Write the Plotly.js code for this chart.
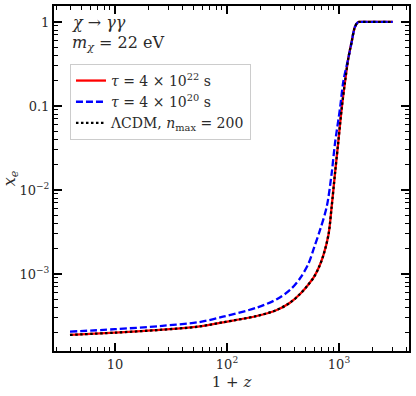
<!DOCTYPE html>
<html>
<head>
<meta charset="utf-8">
<script src="https://cdn.plot.ly/plotly-3.0.1.min.js"></script>
<style>
  html, body { margin: 0; padding: 0; background: #fff; }
  #chart { width: 416px; height: 396px; }
</style>
</head>
<body>
<div id="chart"></div>
<script>
// 1+z and x_e
const zRed = [3.96, 10, 25.2, 55.1, 92, 184, 278, 365, 449, 529, 598, 663, 728, 806, 860, 921, 986, 1057, 1132, 1211, 1298, 1390, 1487, 1560, 3020];
const xeRed = [1.88e-4, 2.00e-4, 2.16e-4, 2.36e-4, 2.66e-4, 3.16e-4, 3.73e-4, 4.55e-4, 5.78e-4, 7.40e-4, 9.21e-4, 1.21e-3, 1.70e-3, 2.95e-3, 6.33e-3, 0.0158, 0.0376, 0.0939, 0.195, 0.370, 0.582, 0.879, 1.0, 1.0, 1.0];

const zBlue = [3.96, 10, 25.2, 55.1, 92, 184, 278, 365, 449, 535, 598, 677, 777, 860, 921, 1021, 1092, 1211, 1298, 1390, 1487, 1560, 3020];
const xeBlue = [2.06e-4, 2.20e-4, 2.40e-4, 2.66e-4, 3.10e-4, 3.97e-4, 5.00e-4, 6.45e-4, 8.89e-4, 1.34e-3, 2.04e-3, 3.34e-3, 6.33e-3, 0.0158, 0.0360, 0.0939, 0.195, 0.370, 0.582, 0.879, 1.0, 1.0, 1.0];

const zLcdm = zRed;
const xeLcdm = xeRed;

const names = [
  "<i>τ</i> = 4 × 10<sup>22</sup> s",
  "<i>τ</i> = 4 × 10<sup>20</sup> s",
  "ΛCDM, <i>n</i><sub>max</sub> = 200"
];

const xTickVals = [10, 100, 1000];
const xTickText = ["10", "10<sup>2</sup>", "10<sup>3</sup>"];
const yTickVals = [1, 0.1, 0.01, 0.001];
const yTickText = ["1", "0.1", "10<sup>−2</sup>", "10<sup>−3</sup>"];

// minor ticks 2..9 in every decade
const minorVals = [];
for (let d = -5; d <= 4; d++) {
  for (let m = 2; m <= 9; m++) minorVals.push(m * Math.pow(10, d));
}

const serif = "DejaVu Serif";
const textColor = "#2b2b2b";

const lineShape = { shape: "spline", smoothing: 0.9 };

const traces = [
  {
    x: zRed, y: xeRed, type: "scatter", mode: "lines", name: names[0],
    line: Object.assign({ color: "#ff0000", width: 2.3 }, lineShape)
  },
  {
    x: zBlue, y: xeBlue, type: "scatter", mode: "lines", name: names[1],
    line: Object.assign({ color: "#0000ff", width: 2.3, dash: "7px,3px" }, lineShape)
  },
  {
    x: zLcdm, y: xeLcdm, type: "scatter", mode: "lines", name: names[2],
    line: Object.assign({ color: "#000000", width: 2.3, dash: "2.5px,2.5px" }, lineShape)
  }
];

const axisCommon = {
  type: "log",
  showline: true,
  linecolor: "#000",
  linewidth: 2,
  mirror: "allticks",
  ticks: "inside",
  ticklen: 8,
  tickwidth: 1.5,
  tickcolor: "#000",
  showgrid: false,
  zeroline: false,
  tickmode: "array",
  tickfont: { family: serif, size: 13, color: textColor },
  minor: { ticks: "inside", ticklen: 4, tickwidth: 1, tickcolor: "#000", tickmode: "array", tickvals: minorVals, showgrid: false }
};

const layout = {
  width: 416,
  height: 396,
  margin: { l: 54, r: 7, t: 6, b: 45 },
  paper_bgcolor: "#fff",
  plot_bgcolor: "#fff",
  font: { family: serif, color: textColor },
  xaxis: Object.assign({}, axisCommon, {
    range: [0.455, 3.625],
    tickvals: xTickVals,
    ticktext: xTickText,
    title: { text: "1 + <i>z</i>", font: { family: serif, size: 15, color: textColor }, standoff: 6 }
  }),
  yaxis: Object.assign({}, axisCommon, {
    range: [-3.917, 0.19],
    tickvals: yTickVals,
    ticktext: yTickText,
    title: { text: "<i>x</i><sub><i>e</i></sub>", font: { family: serif, size: 16, color: textColor }, standoff: 8 }
  }),
  showlegend: true,
  legend: {
    x: 0.045, y: 0.832, xanchor: "left", yanchor: "top",
    bgcolor: "#fff",
    bordercolor: "#cccccc",
    borderwidth: 1,
    font: { family: serif, size: 14, color: textColor }
  },
  annotations: [
    {
      xref: "paper", yref: "paper", x: 0.045, y: 0.951, xanchor: "left", yanchor: "middle",
      text: "<i>χ</i> → <i>γγ</i>", showarrow: false,
      font: { family: serif, size: 16, color: textColor }
    },
    {
      xref: "paper", yref: "paper", x: 0.045, y: 0.89, xanchor: "left", yanchor: "middle",
      text: "<i>m</i><sub><i>χ</i></sub> = 22 eV", showarrow: false,
      font: { family: serif, size: 16, color: textColor }
    }
  ]
};

Plotly.newPlot("chart", traces, layout, { displayModeBar: false, staticPlot: true });
</script>
</body>
</html>
